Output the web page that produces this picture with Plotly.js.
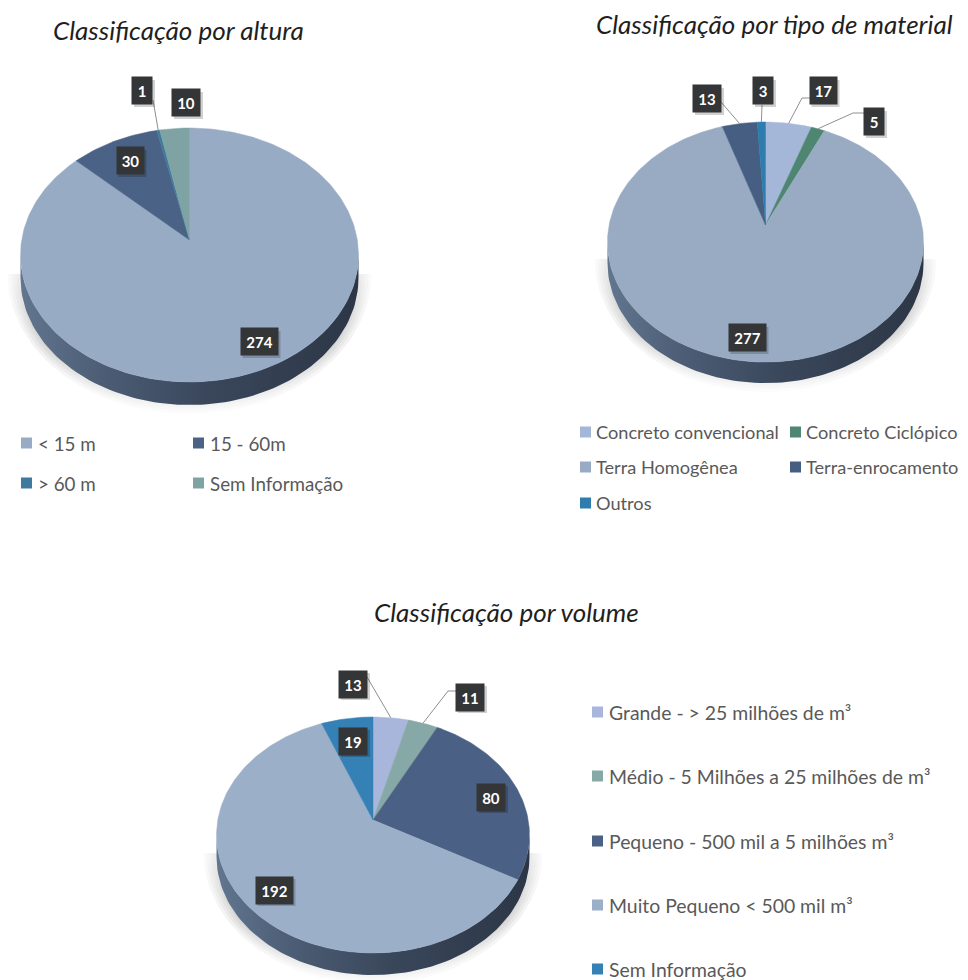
<!DOCTYPE html>
<html>
<head>
<meta charset="utf-8">
<script src="https://cdn.plot.ly/plotly-3.0.1.min.js"></script>
<style>html,body{margin:0;padding:0;background:#fff}#chart{width:968px;height:980px}</style>
</head>
<body>
<div id="chart"></div>
<script>
// ---- data ----
const alturaTitle = 'Classificação por altura';
const alturaCategories = ['< 15 m', '15 - 60m', '> 60 m', 'Sem Informação'];
const alturaValues = [274, 30, 1, 10];
const alturaColors = ['#98abc5', '#4a6285', '#3f7a9e', '#7fa3a3'];

const materialTitle = 'Classificação por tipo de material';
const materialCategories = ['Concreto convencional', 'Concreto Ciclópico', 'Terra Homogênea', 'Terra-enrocamento', 'Outros'];
const materialValues = [17, 5, 277, 13, 3];
const materialColors = ['#a5b7d9', '#4f8672', '#98abc3', '#465e82', '#2f7cae'];

const volumeTitle = 'Classificação por volume';
const volumeCategories = ['Grande - > 25 milhões de m³', 'Médio - 5 Milhões a 25 milhões de m³', 'Pequeno - 500 mil a 5 milhões m³', 'Muito Pequeno < 500 mil m³', 'Sem Informação'];
const volumeValues = [13, 11, 80, 192, 19];
const volumeColors = ['#a8b6dc', '#86a8a6', '#4a6084', '#9bafc9', '#3580b4'];

// ---- page layout (pixels) ----
const W = 968, H = 980;
const px = x => x / W, py = y => 1 - y / H;
const FONT = 'Lato, "Open Sans", sans-serif';

const pies = [
  { title: alturaTitle, titlePos: [178, 30], cats: alturaCategories, vals: alturaValues, cols: alturaColors,
    box: [0, 60, 380, 425], cx: 189.5, cy: 240, a: 167.8, b: 125.2, k: 0.118, d: 23,
    labels: [[259, 342, 37], [130, 161, 27], [142, 91, 20], [186, 103, 28]],
    leaders: { 2: [[153, 100]] },
    legend: [[21, 443], [193, 443], [21, 483], [193, 483]], tx: 15, legendSize: 18.8 },
  { title: materialTitle, titlePos: [774, 24], cats: materialCategories, vals: materialValues, cols: materialColors,
    box: [570, 60, 968, 410], cx: 765.5, cy: 225, a: 156.4, b: 117.6, k: 0.142, d: 21,
    labels: [[823, 91, 27], [874, 122, 20], [747, 338, 37], [707, 99, 28], [763, 91, 20]],
    leaders: { 0: [[810, 98], [802, 98]], 1: [[864, 113], [853, 113]], 3: [[721, 102]], 4: [[762, 105]] },
    legend: [[580, 432], [790, 432], [580, 467], [790, 467], [580, 503]], tx: 14, legendSize: 18.2 },
  { title: volumeTitle, titlePos: [506, 612], cats: volumeCategories, vals: volumeValues, cols: volumeColors,
    box: [190, 660, 560, 980], cx: 373, cy: 820, a: 155.2, b: 116.1, k: 0.127, d: 22,
    labels: [[353, 684, 28], [470, 697, 28], [491, 797, 28], [274, 890, 37], [353, 741, 28]],
    leaders: { 0: [[367, 677]], 1: [[456, 691], [448, 691]] },
    legend: [[592, 712], [592, 776], [592, 841], [592, 905], [592, 969]], tx: 15, legendSize: 19.4 }
];

const traces = [], shapes = [], annotations = [];
const layout = {
  width: W, height: H, margin: { l: 0, r: 0, t: 0, b: 0 },
  paper_bgcolor: '#fff', plot_bgcolor: 'rgba(0,0,0,0)', showlegend: false,
  font: { family: FONT, color: '#595959' }, shapes, annotations
};

pies.forEach((p, n) => {
  const suffix = n === 0 ? '' : String(n + 1);
  const xa = 'x' + suffix, ya = 'y' + suffix;
  const [x0, y0, x1, y1] = p.box;
  const axisBase = { visible: false, fixedrange: true, showgrid: false, zeroline: false };
  layout['xaxis' + suffix] = Object.assign({}, axisBase, { domain: [x0 / W, x1 / W], range: [x0 - p.cx, x1 - p.cx], anchor: ya });
  layout['yaxis' + suffix] = Object.assign({}, axisBase, { domain: [1 - y1 / H, 1 - y0 / H], range: [p.cy - y1, p.cy - y0], anchor: xa });

  // circle angle -> perspective-projected point on the disc edge
  const edge = th => {
    const u = Math.sin(th), v = Math.cos(th), w = 1 + p.k * v;
    return [p.a * u / w, p.b * v / w];
  };
  const rx = p.a / Math.sqrt(1 - p.k * p.k);
  const ry = p.b / (1 - p.k * p.k);
  const ey = -(p.b * p.k) / (1 - p.k * p.k); // ellipse centre relative to apex

  const lowerHalf = (grow, drop) => {
    const xs = [], ys = [];
    for (let i = 0; i <= 90; i++) {
      const t = Math.PI + Math.PI * i / 90;
      xs.push((rx + grow) * Math.cos(t));
      ys.push(ey - drop + (ry + grow) * Math.sin(t));
    }
    return [xs, ys];
  };

  // soft shadow
  [13, 10, 7, 4, 1].forEach(g => {
    const [sx, sy] = lowerHalf(g, p.d - 4);
    traces.push({
      type: 'scatter', mode: 'lines', x: sx.concat(sx[0]), y: sy.concat(sy[0]), xaxis: xa, yaxis: ya,
      fill: 'toself', line: { width: 0 }, hoverinfo: 'skip',
      fillgradient: { type: 'vertical', colorscale: [[0, 'rgba(110,110,110,0.02)'], [0.45, 'rgba(110,110,110,0.09)'], [1, 'rgba(110,110,110,0.03)']] }
    });
  });

  // side wall of the disc
  const [bx, by] = lowerHalf(0, p.d);
  const [tx, ty] = lowerHalf(0, 0);
  traces.push({
    type: 'scatter', mode: 'lines', xaxis: xa, yaxis: ya,
    x: bx.concat(tx.slice().reverse()), y: by.concat(ty.slice().reverse()),
    fill: 'toself', line: { width: 0 }, hoverinfo: 'skip',
    fillgradient: { type: 'horizontal', colorscale: [[0, '#62768f'], [0.25, '#4b5c74'], [0.55, '#3a475b'], [1, '#2c3646']] }
  });

  // top face slices
  const total = p.vals.reduce((s, v) => s + v, 0);
  let run = 0;
  const mids = [];
  p.vals.forEach((v, i) => {
    const a0 = run / total * 2 * Math.PI;
    const a1 = (run + v) / total * 2 * Math.PI;
    run += v;
    mids.push((a0 + a1) / 2);
    const xs = [0], ys = [0];
    const steps = Math.max(2, Math.ceil((a1 - a0) / 0.02));
    for (let s = 0; s <= steps; s++) {
      const [ex, ey2] = edge(a0 + (a1 - a0) * s / steps);
      xs.push(ex); ys.push(ey2);
    }
    xs.push(0); ys.push(0);
    traces.push({
      type: 'scatter', mode: 'lines', x: xs, y: ys, xaxis: xa, yaxis: ya, name: p.cats[i],
      fill: 'toself', fillcolor: p.cols[i], line: { color: p.cols[i], width: 0.5 },
      text: p.cats[i] + ': ' + v, hoverinfo: 'text'
    });
  });

  // leaders from the slice edge to the label box
  Object.keys(p.leaders).forEach(key => {
    const i = +key;
    const [ex, ey2] = edge(mids[i]);
    const pts = p.leaders[key].concat([[p.cx + ex, p.cy - ey2]]);
    const path = pts.map((q, j) => (j ? 'L' : 'M') + px(q[0]) + ',' + py(q[1])).join(' ');
    shapes.push({ type: 'path', xref: 'paper', yref: 'paper', path, line: { color: '#8f8f8f', width: 1 } });
  });

  // value labels
  p.vals.forEach((v, i) => {
    const [lx, ly, w] = p.labels[i];
    shapes.push({ type: 'rect', xref: 'paper', yref: 'paper', x0: px(lx - w / 2 + 2), x1: px(lx + w / 2 + 3), y0: py(ly - 11), y1: py(ly + 16),
      fillcolor: 'rgba(0,0,0,0.18)', line: { width: 0 } });
    annotations.push({
      xref: xa, yref: ya, x: lx - p.cx, y: p.cy - ly, text: '<b>' + v + '</b>', showarrow: false,
      xanchor: 'center', yanchor: 'middle', width: w, height: 27, align: 'center', valign: 'middle',
      bgcolor: '#333536', borderpad: 0, font: { family: FONT, size: 15, color: '#ffffff' }
    });
  });

  // title
  annotations.push({
    xref: 'paper', yref: 'paper', x: px(p.titlePos[0]), y: py(p.titlePos[1]), text: '<i>' + p.title + '</i>',
    showarrow: false, xanchor: 'center', yanchor: 'middle', font: { family: FONT, size: 26, color: '#1f1f1f' }
  });

  // legend
  p.cats.forEach((c, i) => {
    const [sx, sy] = p.legend[i];
    shapes.push({ type: 'rect', xref: 'paper', yref: 'paper', x0: px(sx), x1: px(sx + 11), y0: py(sy - 5.5), y1: py(sy + 5.5),
      fillcolor: p.cols[i], line: { width: 0 } });
    annotations.push({
      xref: 'paper', yref: 'paper', x: px(sx + p.tx), y: py(sy), text: c.replace(/</g, '&lt;'),
      showarrow: false, xanchor: 'left', yanchor: 'middle', font: { family: FONT, size: p.legendSize, color: '#595959' }
    });
  });
});

Plotly.newPlot('chart', traces, layout, { displayModeBar: false, responsive: false });
</script>
</body>
</html>
